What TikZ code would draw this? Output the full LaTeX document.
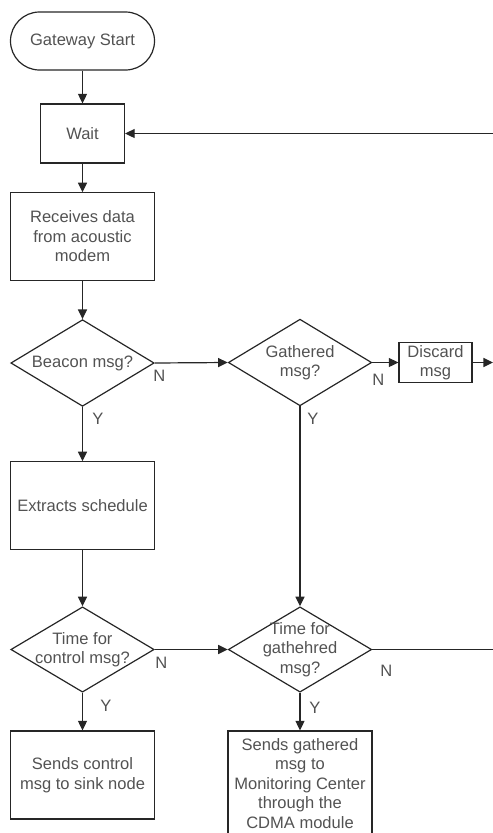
\documentclass[tikz,border=0pt]{standalone}
\usepackage{fontspec}
\setmainfont{Liberation Sans}
\usetikzlibrary{shapes.geometric,arrows.meta}

\begin{document}
\begin{tikzpicture}[x=0.75pt,y=-0.75pt,
  every node/.style={font=\fontsize{12.4}{14.6}\selectfont,text=black!68},
  box/.style={draw=black!85,line width=0.9pt,rectangle,inner sep=0pt,minimum width=108pt,minimum height=65.5pt,align=center},
  decision/.style={draw=black!85,line width=0.9pt,diamond,inner sep=0pt,minimum width=107.5pt,minimum height=65pt},
  flow/.style={draw=black!85,line width=0.9pt,-{Triangle[length=7.2pt,width=6.8pt]}},
  yn/.style={inner sep=0pt,anchor=north west}]
 \useasboundingbox (0,0) rectangle (493,833);
 % left column
 \node[box,rounded corners=21.75pt,minimum height=43.5pt] (start) at (82.5,41) {Gateway Start};
 \node[box,minimum width=63pt,minimum height=44.25pt] (wait) at (82.5,133.5) {Wait};
 \node[box] (recv) at (82.5,236.5) {Receives data\\from acoustic\\modem};
 \node[decision,label={[align=center]center:Beacon msg?}] (beacon) at (82.5,363) {};
 \node[box] (extract) at (82.5,505.5) {Extracts schedule};
 \node[decision,minimum height=64pt,label={[align=center]center:{Time for\\control msg?}}] (ctrl) at (82.5,649.5) {};
 \node[box,minimum height=66pt] (sendctrl) at (82.5,775) {Sends control\\msg to sink node};
 % right column
 \node[decision,label={[align=center]center:{Gathered\\msg?}}] (gath) at (300,362.5) {};
 \node[box,minimum width=54.75pt,minimum height=30pt] (discard) at (435.5,362.5) {Discard\\msg};
 \node[decision,minimum height=64pt,label={[align=center]center:{Time for\\gathehred\\msg?}}] (tgath) at (300,649.5) {};
 \node[box,minimum height=78.75pt] (sendgath) at (300,783.5) {Sends gathered\\msg to\\Monitoring Center\\through the\\CDMA module};
 \coordinate (loopin) at (493,133.5);
 \coordinate (discout) at (493,362.5);
 \coordinate (tgout) at (493,649.5);
 % connectors
 \draw[flow] (start) -- (wait);
 \draw[flow] (wait) -- (recv);
 \draw[flow] (recv) -- (beacon);
 \draw[flow] (loopin) -- (wait.east);
 \draw[flow] (beacon.east) -- (gath.west);
 \draw[flow] (gath.east) -- (discard.west);
 \draw[flow] (discard.east) -- (discout);
 \draw[flow] (beacon.south) -- (extract.north);
 \draw[flow] (gath.south) -- (tgath.north);
 \draw[flow] (extract.south) -- (ctrl.north);
 \draw[flow] (ctrl.east) -- (tgath.west);
 \draw[draw=black!85,line width=0.9pt] (tgath.east) -- (tgout);
 \draw[flow] (ctrl.south) -- (sendctrl.north);
 \draw[flow] (tgath.south) -- (sendgath.north);
 % branch labels
 \node[yn] (nbeacon) at (153,370) {N};
 \node[yn] (ybeacon) at (92,413) {Y};
 \node[yn] (ngath) at (372,374) {N};
 \node[yn] (ygath) at (307,413) {Y};
 \node[yn] (nctrl) at (155,657) {N};
 \node[yn] (yctrl) at (100,700) {Y};
 \node[yn] (ntgath) at (380,665) {N};
 \node[yn] (ytgath) at (309,702) {Y};
\end{tikzpicture}
\end{document}
